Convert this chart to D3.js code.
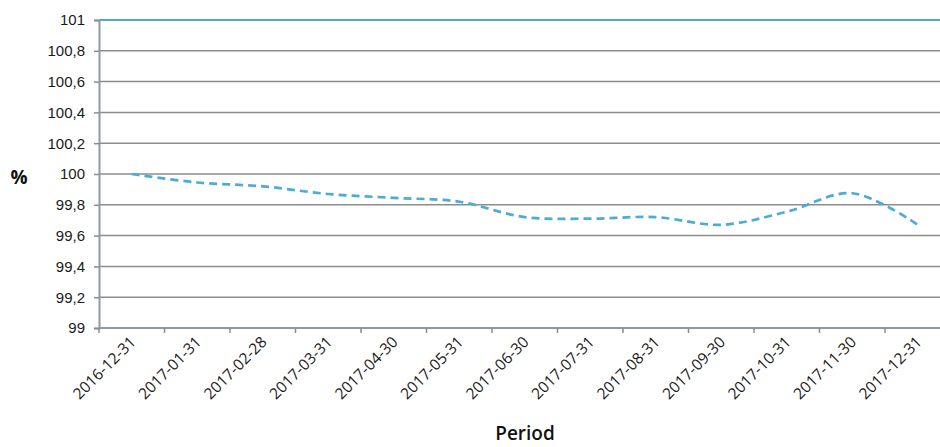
<!DOCTYPE html>
<html><head><meta charset="utf-8">
<script src="https://cdn.jsdelivr.net/npm/d3@7"></script>
<style>body{margin:0;background:#fff}svg{display:block;font-family:"Open Sans","Noto Sans",sans-serif}</style>
</head><body><svg id="c" width="940" height="447"></svg>
<script>
const periods = ["2016-12-31","2017-01-31","2017-02-28","2017-03-31","2017-04-30","2017-05-31","2017-06-30","2017-07-31","2017-08-31","2017-09-30","2017-10-31","2017-11-30","2017-12-31"];
const values = [100, 99.945, 99.92, 99.87, 99.845, 99.82, 99.72, 99.71, 99.72, 99.67, 99.755, 99.875, 99.67];
const yTicks = [99, 99.2, 99.4, 99.6, 99.8, 100, 100.2, 100.4, 100.6, 100.8, 101];

(function () {
const svg = d3.select("#c");
const mLeft = 99, mTop = 20, mBottom = 328, bw = 65.5;
const x = d3.scaleBand().domain(periods).range([mLeft, mLeft + bw * periods.length]);
const y = d3.scaleLinear().domain([99, 101]).range([mBottom, mTop]);
const fmt = v => String(+v.toFixed(1)).replace(".", ",");

// gridlines
svg.append("g").selectAll("line").data(yTicks.filter(v => v < 101)).join("line")
  .attr("x1", mLeft).attr("x2", 940).attr("y1", d => y(d)).attr("y2", d => y(d))
  .attr("stroke", "#8c8c8c").attr("stroke-width", 1.5);
svg.append("line").attr("x1", mLeft).attr("x2", 940).attr("y1", y(101)).attr("y2", y(101))
  .attr("stroke", "#4bacd6").attr("stroke-width", 2);

// y axis
const ya = svg.append("g").attr("transform", `translate(${mLeft},0)`)
  .call(d3.axisLeft(y).tickValues(yTicks).tickFormat(fmt).tickSize(5).tickPadding(9));
ya.select(".domain").attr("stroke", "#8b9ba5").attr("stroke-width", 2);
ya.selectAll(".tick line").attr("stroke", "#8c8c8c").attr("stroke-width", 1.5);
ya.selectAll("text").attr("font-size", 15).attr("fill", "#1a1a1a");

// x axis
const bounds = periods.map(p => x(p));
const xa = svg.append("g").attr("transform", `translate(0,${mBottom})`);
xa.append("line").attr("x1", mLeft).attr("x2", 940).attr("stroke", "#8b9ba5").attr("stroke-width", 2);
xa.selectAll(".tk").data(bounds).join("line").attr("class", "tk")
  .attr("x1", d => d).attr("x2", d => d).attr("y1", 0).attr("y2", 5)
  .attr("stroke", "#8c8c8c").attr("stroke-width", 1.5);
xa.selectAll(".lbl").data(periods).join("text").attr("class", "lbl")
  .attr("transform", d => `translate(${x(d) + x.bandwidth() / 2 + 5},${15}) rotate(-45)`)
  .attr("text-anchor", "end").attr("font-size", 15.5).attr("fill", "#1a1a1a").text(d => d);

// line
const line = d3.line().x((d, i) => x(periods[i]) + x.bandwidth() / 2).y(d => y(d))
  .curve(d3.curveCatmullRom.alpha(0.5));
svg.append("path").datum(values).attr("d", line).attr("fill", "none")
  .attr("stroke", "#4bacd6").attr("stroke-width", 2.7).attr("stroke-dasharray", "8,5");

// axis titles
svg.append("text").attr("x", 19).attr("y", 184).attr("text-anchor", "middle")
  .attr("font-size", 19).attr("font-weight", "bold").attr("fill", "#111").text("%");
svg.append("text").attr("x", 525).attr("y", 440).attr("text-anchor", "middle")
  .attr("font-size", 19).attr("font-weight", 600).attr("fill", "#111").text("Period");
})();
</script></body></html>
